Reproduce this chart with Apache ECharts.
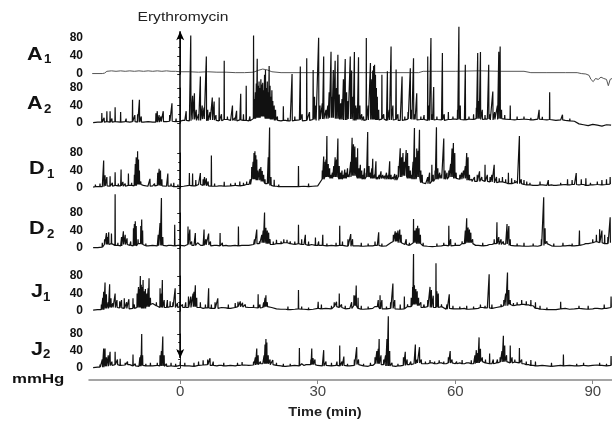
<!DOCTYPE html>
<html><head><meta charset="utf-8">
<script src="https://cdn.jsdelivr.net/npm/echarts@6/dist/echarts.min.js"></script>
<style>html,body{margin:0;padding:0;background:#fff}#c{width:612px;height:421px}</style>
</head><body><div id="c"></div>
<script>
// ---------------- DATA ----------------
const timeTicks = [0, 30, 60, 90];
const yTickMax = 80;
const channelLetters = ['A', 'A', 'D', 'D', 'J', 'J'];
const channelSubs = ['1', '2', '1', '2', '1', '2'];
const BG_START = -19; // background samples, one per minute from -19 to 94

// A1: slow baseline trace [time, mmHg]
const a1Trace = [[-19.2,1],[-17,1],[-16.5,2],[-16,6],[-15,7],[-14,6],[-13,7],[-12,6],[-11,7],[-10,6],[-9,7],[-8,6],[-7,7],[-6,6],[-5,7],[-4,6],[-3,7],[-2,6],[-1,6],[0,5],[2,5],[4,4],[6,5],[8,4],[10,4],[12,3],[14,3],[16,4],[17,8],[18,11],[19,9],[20,5],[22,3],[30,3],[40,3],[50,3],[52,3],[53,6],[56,6],[60,6],[65,7],[70,6],[75,6],[76.5,3],[80,3],[84,3],[86.6,3],[87.5,1],[88.5,0],[89.2,-3],[89.6,-12],[90.1,-17],[90.6,-10],[91.2,-12],[91.8,-7],[92.4,-10],[93.0,-12],[93.4,-26],[93.8,-12],[94.2,-10]];

// A2
const a2Bg = [1,2,2,3,2,3,2,3,2,3,2,2,3,2,2,3,3,4,3,
  4,6,5,8,6,9,5,7,6,5,8,6,5,7,6,5,
  10,12,15,10,8,6,5,6,5,6,7,5,6,8,6,
  9,10,12,10,8,7,9,6,8,6,7,8,7,9,6,
  7,8,6,7,9,8,7,8,6,7,8,7,6,8,9,
  8,7,9,8,10,8,9,7,8,10,9,8,7,8,9,
  8,7,9,8,7,8,6,7,6,5,4,
  -2,-4,-6,-3,-5,-7,-4,-5];
const a2Spikes = [[-17.1,23],[-16.6,12],[-16.0,27],[-15.3,27],[-14.9,10],[-14.2,36],[-13.0,25],[-11.8,10],[-10.4,53],[-9.9,18],[-9.3,20],[-8.9,53],[-8.5,15],[-5.3,22],[-5.0,27],[-4.6,18],[-4.2,15],[-3.7,27],[-2.3,18],[-1.8,45],[-0.9,10],
  [0.6,10],[1.3,27],[2.3,200],[2.7,62],[3.1,68],[3.5,30],[4.0,20],[4.4,106],[4.8,40],[5.2,35],[5.7,152],[6.0,30],[6.5,25],[7.0,58],[7.4,49],[7.8,18],[8.5,58],[9.0,20],[9.6,142],[10.3,15],[11.4,40],[11.9,12],[12.3,28],[13.2,67],[13.8,20],[14.4,85],[15.2,15],
  [16.0,200],[16.2,55],[16.4,70],[16.6,90],[16.8,147],[17.0,85],[17.2,95],[17.4,80],[17.6,100],[17.8,88],[18.0,92],[18.2,75],[18.4,110],[18.6,121],[18.8,80],[19.0,95],[19.2,70],[19.4,130],[19.6,85],[19.8,60],[20.0,75],[20.2,50],[20.5,40],[20.8,30],[21.2,15],
  [22.5,38],[23.5,12],[24.4,112],[25.0,15],[26.2,129],[26.6,20],[27.6,148],[28.2,25],[29.0,121],[29.3,60],[29.6,40],[30.2,195],[30.5,40],[31.0,45],[31.3,152],[31.8,30],
  [32.2,40],[32.5,70],[32.9,163],[33.1,60],[33.4,121],[33.8,142],[34.1,80],[34.4,156],[34.7,65],[35.0,45],[35.3,55],[35.6,100],[36.0,146],[36.3,70],[36.6,50],[37.1,152],[37.4,120],[37.7,60],[38.0,162],[38.3,40],[38.6,35],[38.9,150],[39.2,40],[39.6,20],[40.0,15],[40.6,194],[41.0,40],[41.5,137],[41.8,100],[42.0,120],[42.2,130],[42.4,133],[42.6,110],[42.8,80],[43.0,60],[43.3,30],[44.0,110],[44.4,20],[45.2,118],[45.6,30],[46.0,175],[46.4,40],[47.1,122],[47.5,20],[48.4,106],[49.0,15],[49.7,25],[50.2,125],[50.5,30],[50.9,148],[51.2,20],[51.6,68],[52.5,15],[53.2,18],[54.0,152],[54.3,40],[54.7,194],[55.0,20],[55.3,82],[56.0,15],[57.2,160],[57.6,20],[58.5,25],[59.5,15],[60.5,30],[60.8,220],[61.1,40],[62.2,133],[63.0,15],[64.0,20],[64.6,35],[64.9,160],[65.2,50],[65.5,162],[65.9,30],[66.5,18],[67.3,133],[67.6,20],[68.2,72],[68.6,25],[69.2,40],[69.5,163],[69.8,175],[70.1,30],[70.8,18],[72.0,40],[73.5,15],[75.0,15],[76.5,12],[78.3,30],[79.0,14],[80.6,70],[82.0,10],[83.4,19],[85.0,10]];

// D1
const d1Bg = [2,3,3,5,4,6,5,4,6,5,8,6,4,5,6,5,4,5,3,
  3,4,6,5,8,6,5,4,4,5,4,5,6,5,6,8,
  20,18,15,10,6,4,3,3,3,3,3,4,3,4,5,
  20,25,22,25,20,22,25,28,22,20,25,22,20,22,20,
  20,18,25,28,22,20,25,12,10,15,20,22,20,25,22,
  20,22,18,15,15,18,15,14,12,14,12,10,12,10,8,
  7,6,6,7,6,7,6,7,8,7,8,
  7,8,6,7,8,7,8,9];
const d1Spikes = [[-18.5,8],[-17.5,10],[-16.7,63],[-16.4,29],[-16.0,25],[-15.3,27],[-14.8,12],[-14.2,36],[-13.5,10],[-12.9,42],[-12.5,14],[-12.0,10],[-11.3,33],[-10.6,12],[-10.0,30],[-9.8,55],[-9.6,70],[-9.4,68],[-9.3,84],[-9.1,65],[-8.9,40],[-8.6,15],[-8.0,10],[-7.0,8],[-6.6,21],[-5.6,10],[-4.9,35],[-4.6,44],[-4.3,40],[-4.0,20],[-2.7,33],[-2.0,10],[-1.4,12],[-0.5,8],
  [0.8,8],[2.0,34],[2.7,33],[3.4,18],[4.4,34],[5.0,20],[5.3,25],[5.7,22],[6.1,15],[6.8,74],[7.5,10],[8.5,8],[9.6,14],[11.0,10],[12.0,12],[13.0,15],[13.8,12],[14.5,15],[15.3,20],[15.6,48],[15.9,60],[16.1,80],[16.3,84],[16.5,75],[16.7,65],[16.9,40],[17.3,44],[17.6,48],[17.9,39],[18.2,30],[18.5,20],[19.2,70],[19.5,138],[19.8,25],[20.5,19],[21.5,8],[23,6],[24.5,7],[25.8,50],[27.0,8],[28.0,10],[29.0,6],
  [30.3,8],[31.0,40],[31.3,72],[31.6,60],[31.8,65],[32.0,119],[32.3,55],[32.6,45],[32.9,30],[33.2,35],[33.5,50],[33.8,70],[34.1,65],[34.4,113],[34.7,50],[35.0,35],[35.3,40],[35.6,30],[35.9,42],[36.2,35],[36.5,45],[36.8,30],[37.2,60],[37.5,115],[37.8,100],[38.1,95],[38.4,70],[38.7,91],[39.0,45],[39.3,53],[39.6,40],[39.9,30],[40.2,45],[40.6,35],[40.9,128],[41.2,50],[41.5,35],[41.8,45],[42.0,67],[42.4,30],[42.7,61],[43.0,25],[43.4,30],[43.8,38],[44.2,30],[44.6,28],[45.0,35],[45.4,30],[45.7,61],[46.0,30],[46.4,25],[46.8,32],[47.2,30],[47.6,50],[48.0,91],[48.3,70],[48.6,80],[48.9,60],[49.3,87],[49.6,80],[49.9,50],[50.2,40],[50.5,30],[50.8,60],[51.1,137],[51.4,70],[51.6,90],[51.9,85],[52.2,133],[52.5,40],[52.8,30],[53.2,15],[53.6,12],[54.0,25],[54.4,35],[54.9,53],[55.2,30],[55.6,40],[55.9,139],[56.2,45],[56.6,35],[57.0,30],[57.5,113],[57.8,40],[58.2,35],[58.6,40],[59.0,55],[59.3,90],[59.6,103],[59.9,80],[60.2,35],[60.6,25],[61.0,30],[61.4,35],[61.8,40],[62.2,50],[62.5,80],[62.8,70],[63.1,30],[63.6,20],[64.2,25],[64.8,30],[65.3,38],[65.8,25],[66.5,53],[67.0,30],[67.6,25],[68.0,30],[68.5,53],[69.0,25],[69.6,22],[70.3,25],[71.0,20],[71.6,35],[72.3,22],[73.0,18],[73.5,15],[74.0,119],[74.4,20],[75.0,18],[75.6,15],[76.3,12],[77,8],[78.5,15],[80.3,18],[81.5,10],[83,12],[84.5,20],[85.5,18],[86.4,34],[87.5,20],[88.5,22],[89.5,12],[91.0,15],[92.0,18],[93.0,20],[93.8,25]];

// D2
const d2Bg = [1,1,2,8,10,6,5,8,6,5,10,8,5,6,5,6,5,6,5,
  6,5,8,6,8,6,7,5,6,5,6,5,6,5,6,6,
  8,10,12,10,8,10,10,12,10,8,10,8,6,8,6,
  6,5,6,5,6,5,4,5,5,4,5,5,6,4,5,
  12,15,12,8,6,12,10,5,4,3,4,5,6,5,6,
  6,10,12,10,6,5,6,8,10,8,9,6,5,5,4,
  4,5,4,6,10,5,4,4,5,6,5,
  6,8,10,12,15,12,10,12];
const d2Spikes = [[-17.0,12],[-16.5,20],[-16.1,34],[-15.9,25],[-15.6,36],[-15.0,33],[-14.6,10],[-14.2,123],[-13.6,12],[-12.8,25],[-12.4,38],[-12.0,30],[-11.6,22],[-10.8,15],[-10.2,45],[-10.0,55],[-9.8,61],[-9.6,50],[-9.2,20],[-8.6,50],[-8.4,65],[-8.2,40],[-7.5,10],[-6.0,8],[-4.8,30],[-4.4,57],[-4.1,114],[-3.8,25],[-2.5,10],[-1.2,53],[-0.5,10],
  [1.7,49],[2.1,42],[2.5,15],[3.3,34],[3.8,12],[4.5,10],[5.2,42],[5.6,20],[6.2,33],[6.6,15],[7.5,8],[8.7,34],[9.2,12],[10.5,8],[12.0,10],[12.7,49],[13.5,8],[15.0,10],[16.2,20],[16.7,42],[17.3,15],[17.8,30],[18.1,40],[18.4,81],[18.7,46],[19.0,40],[19.3,35],[19.6,20],[20.3,15],[21,19],[22,15],[22.6,20],[23.3,19],[24,15],[25.0,15],[25.8,53],[26.5,20],[27.3,30],[28.0,15],[28.7,12],[29.5,24],
  [30.2,15],[31.1,30],[32.0,10],[34.0,12],[34.8,51],[35.4,15],[36.6,20],[37.2,32],[37.6,20],[39.5,12],[41.0,10],[42.5,15],[43.3,36],[44.0,10],[46.0,15],[46.5,30],[46.9,38],[47.2,35],[47.5,40],[47.9,42],[48.2,30],[48.6,15],[49.3,20],[50.0,12],[50.9,66],[51.2,40],[51.5,45],[51.8,51],[52.1,45],[52.4,30],[53.0,12],[54.0,8],[56.0,10],[57.5,12],[58.6,51],[59.0,20],[60.0,12],[61.5,15],[62.2,40],[62.5,68],[62.8,47],[63.1,42],[63.4,35],[63.8,20],[64.5,10],[66.0,12],[67.5,8],[68.5,20],[69.1,59],[69.5,25],[70.0,20],[70.5,15],[71.3,55],[71.7,50],[72.0,20],[73.5,10],[75,12],[77,10],[78.8,20],[79.3,116],[79.6,45],[80.0,15],[81.5,10],[83.5,12],[85.5,10],[87.1,40],[88.5,12],[90.0,20],[90.8,30],[91.5,43],[92.0,40],[92.6,30],[93.3,25],[93.8,70]];

// J1
const j1Bg = [2,3,3,6,8,8,7,6,5,6,8,6,10,15,12,8,8,10,8,
  10,8,8,10,8,6,7,6,6,8,7,6,8,10,9,8,
  8,7,8,10,8,5,4,4,3,4,5,4,3,4,6,
  5,6,5,10,8,5,6,12,6,4,5,6,10,5,5,
  6,5,4,5,10,15,12,8,10,8,8,10,4,6,5,
  5,6,4,5,6,8,7,6,8,10,12,15,12,14,15,
  14,12,6,4,3,3,3,5,6,4,5,
  6,5,4,5,6,5,6,8];
const j1Spikes = [[-18,6],[-17.2,15],[-16.9,30],[-16.7,44],[-16.4,65],[-16.1,38],[-15.7,20],[-15.4,61],[-15.1,29],[-14.7,18],[-14.2,40],[-13.8,25],[-13.2,22],[-12.8,25],[-12.2,29],[-11.7,20],[-11.2,27],[-10.3,29],[-10.0,15],[-9.4,40],[-9.1,55],[-8.9,50],[-8.7,80],[-8.5,60],[-8.3,55],[-8.1,71],[-7.9,45],[-7.6,50],[-7.3,40],[-7.0,52],[-6.8,75],[-6.5,30],[-6.0,17],[-5.2,20],[-4.4,52],[-4.1,40],[-3.9,71],[-3.5,25],[-2.8,25],[-2.2,22],[-1.6,20],[-1.1,52],[-0.6,18],
  [0.0,21],[0.5,15],[1.2,20],[1.8,33],[2.3,33],[2.8,40],[3.0,44],[3.3,59],[3.6,30],[4.4,20],[5.5,15],[6.2,52],[6.8,15],[7.6,20],[8.2,29],[9.2,12],[10.5,15],[12.0,18],[12.6,21],[13.1,22],[13.6,19],[14.2,15],[15.0,12],[16.0,14],[17.0,38],[17.4,15],[18.2,20],[18.5,30],[18.7,36],[19.0,20],[20.0,10],[22,8],[23.5,10],[25.8,48],[26.5,10],[28,8],
  [30.1,21],[30.8,15],[31.8,10],[33.0,12],[33.6,20],[34.1,21],[34.7,40],[35.2,15],[36.0,12],[37.4,20],[37.9,36],[38.2,35],[38.4,58],[38.8,30],[39.5,12],[41,10],[42.5,12],[43.2,25],[43.6,36],[44.0,25],[45,10],[45.9,20],[46.4,63],[46.8,25],[48.0,15],[48.9,33],[49.6,15],[50.4,30],[50.7,55],[50.9,130],[51.1,59],[51.4,50],[51.7,45],[52.0,30],[52.5,20],[53.2,15],[54.0,25],[54.5,55],[54.8,48],[55.2,35],[55.8,109],[56.0,45],[56.3,40],[57.0,15],[58.2,15],[58.7,38],[59.5,12],[61,10],[62.5,12],[64,10],[65.5,15],[66.5,12],[67.4,84],[68.0,15],[69.0,12],[70.0,15],[70.6,25],[71.0,40],[71.4,88],[71.7,48],[72.0,25],[72.7,18],[73.5,20],[74.5,25],[75.5,22],[76.5,25],[77.5,20],[78.5,12],[80.0,8],[83.0,21],[85,8],[87,12],[89,12],[90.5,10],[92.5,15],[94.0,33]];

// J2
const j2Bg = [1,2,2,4,6,8,6,7,8,5,4,6,5,5,6,5,4,5,4,
  6,5,5,4,6,7,8,6,5,6,5,6,5,6,7,6,
  7,8,10,10,8,6,5,4,5,6,5,6,8,8,6,
  5,6,5,6,5,6,5,6,8,5,4,6,10,8,5,
  5,4,5,6,8,10,12,10,10,12,10,12,10,12,10,
  12,10,12,10,12,15,12,10,12,14,15,12,14,12,10,
  8,6,5,6,5,4,5,6,5,6,5,
  5,6,5,6,7,6,5,6];
const j2Spikes = [[-17.5,8],[-17.0,20],[-16.7,46],[-16.4,46],[-16.1,25],[-15.7,30],[-15.3,38],[-14.9,15],[-14.2,38],[-13.7,20],[-13.1,22],[-12.0,12],[-11.5,15],[-10.3,32],[-9.8,10],[-8.8,25],[-8.6,30],[-8.4,80],[-8.2,30],[-7.5,10],[-6.5,12],[-5.0,12],[-4.4,30],[-4.1,40],[-3.8,74],[-3.5,30],[-3.0,10],[-2.0,12],[-1.0,10],
  [0,15],[1.0,12],[2.0,8],[3.0,12],[4.0,15],[5.0,18],[6.0,20],[6.5,23],[7.2,15],[8.5,10],[9.5,12],[11,10],[12.5,12],[13.5,14],[15.0,10],[16.0,15],[16.4,25],[16.7,46],[17.0,30],[17.5,15],[18.3,30],[18.5,55],[18.7,68],[18.9,60],[19.2,30],[19.6,20],[20.2,19],[21.0,12],[22.5,10],[24.0,10],[25.0,8],[26.0,47],[26.5,10],[27.5,10],[28.5,20],[28.7,46],[29.0,23],[29.4,20],
  [30.0,10],[31.3,42],[31.8,15],[33.0,12],[34.2,15],[34.8,53],[35.3,15],[35.7,27],[36.5,10],[38.0,20],[38.5,49],[38.9,20],[40.0,10],[41.5,12],[42.5,25],[42.9,40],[43.2,45],[43.4,68],[43.8,30],[44.4,20],[44.8,30],[45.1,68],[45.4,122],[45.7,40],[46.2,12],[47.5,10],[48.7,25],[49.1,38],[49.5,20],[50.3,15],[51.3,55],[51.7,20],[52.2,49],[52.6,20],[53.5,15],[54.5,19],[55.5,15],[56.5,18],[57.5,15],[58.5,25],[58.9,40],[59.3,20],[60.3,15],[61.5,19],[62.5,15],[63.5,18],[64.3,30],[64.6,42],[64.9,35],[65.2,72],[65.5,45],[65.9,25],[66.6,20],[67.5,34],[68.3,20],[69.2,20],[69.8,25],[70.2,40],[70.5,76],[70.8,53],[71.2,30],[72.0,53],[72.4,25],[73.0,20],[74.0,47],[74.5,20],[75.5,15],[76.5,19],[77.5,15],[79,10],[81,12],[83.6,32],[85,8],[86.5,10],[88,12],[90,10],[91.5,12],[93.0,10],[94.0,28]];

// ---------------- BUILD ----------------
function buildTrace(bg, spikes) {
  const pts = [];
  bg.forEach((v, i) => pts.push([BG_START + i, v]));
  spikes.forEach(([t, v]) => {
    const k = Math.max(0, Math.min(bg.length - 1, Math.round(t - BG_START)));
    const b = bg[k];
    pts.push([t - 0.05, b], [t, v], [t + 0.05, b]);
  });
  pts.sort((p, q) => p[0] - q[0]);
  return pts;
}

const traces = [
  a1Trace,
  buildTrace(a2Bg, a2Spikes),
  buildTrace(d1Bg, d1Spikes),
  buildTrace(d2Bg, d2Spikes),
  buildTrace(j1Bg, j1Spikes),
  buildTrace(j2Bg, j2Spikes)
];

const FONT = '"Liberation Sans", Arial, Helvetica, sans-serif';
const X_MIN = -19.9, X_MAX = 94.2;
const gridTops = [38, 88, 153, 213, 276, 334];
const gridHeights = [36, 35, 35, 35, 35, 34];
const letterX = { A: 27, D: 29, J: 31 };
const subX = { A: 44, D: 47, J: 43 };

const grids = [], xAxes = [], yAxes = [], series = [], graphics = [];
for (let i = 0; i < 6; i++) {
  grids.push({ left: 89, right: 0, top: gridTops[i], height: gridHeights[i] });
  xAxes.push({ gridIndex: i, type: 'value', min: X_MIN, max: X_MAX, show: false });
  yAxes.push({
    gridIndex: i, type: 'value', min: 0, max: yTickMax, interval: 40,
    axisLine: { show: true, lineStyle: { color: '#222', width: 1 } },
    axisTick: { show: true, length: 3, lineStyle: { color: '#222' } },
    minorTick: { show: true, splitNumber: 2, length: 2, lineStyle: { color: '#222' } },
    splitLine: { show: false },
    axisLabel: { color: '#111', fontWeight: 'bold', fontSize: 12, fontFamily: FONT, margin: 6 }
  });
  series.push({
    type: 'line', xAxisIndex: i, yAxisIndex: i, data: traces[i],
    showSymbol: false, symbol: 'none', clip: false, silent: true, animation: false,
    lineStyle: { color: i === 0 ? '#555' : '#111', width: i === 0 ? 1 : 1.2 }
  });
  const cy = gridTops[i] + gridHeights[i] / 2 - 1;
  const L = channelLetters[i];
  graphics.push({
    type: 'text', x: letterX[L], y: cy, scaleX: 1.2, silent: true,
    style: { text: L, font: 'bold 18px ' + FONT, fill: '#111',
      textAlign: 'left', textVerticalAlign: 'middle', align: 'left', verticalAlign: 'middle' }
  });
  graphics.push({
    type: 'text', x: subX[L], y: cy + 5, scaleX: 1.1, silent: true,
    style: { text: channelSubs[i], font: 'bold 12px ' + FONT, fill: '#111',
      textAlign: 'left', textVerticalAlign: 'middle', align: 'left', verticalAlign: 'middle' }
  });
}
// overall grid: time axis + erythromycin arrow
grids.push({ left: 89, right: 0, top: 20, bottom: 41 });
xAxes.push({
  gridIndex: 6, type: 'value', min: X_MIN, max: X_MAX, position: 'bottom',
  axisLine: { show: true, lineStyle: { color: '#888', width: 1.5 } },
  axisTick: { show: true, customValues: timeTicks, length: 4, lineStyle: { color: '#888' } },
  axisLabel: { customValues: timeTicks, fontSize: 15, color: '#444', fontFamily: FONT, margin: 4 },
  splitLine: { show: false }
});
yAxes.push({ gridIndex: 6, type: 'value', min: 0, max: 1, show: false });
series.push({
  type: 'line', xAxisIndex: 6, yAxisIndex: 6, data: [], silent: true, animation: false,
  markLine: {
    silent: true, animation: false, symbol: ['arrow', 'arrow'], symbolSize: [6, 9],
    label: { show: false },
    lineStyle: { color: '#000', width: 1.5, type: 'solid' },
    data: [[{ coord: [0, 0.061] }, { coord: [0, 0.969] }]]
  }
});

graphics.push({
  type: 'text', x: 183, y: 17, scaleX: 1.2, silent: true,
  style: { text: 'Erythromycin', font: '13px ' + FONT, fill: '#222',
    textAlign: 'center', textVerticalAlign: 'middle', align: 'center', verticalAlign: 'middle' }
});
graphics.push({
  type: 'text', x: 325, y: 412, scaleX: 1.12, silent: true,
  style: { text: 'Time (min)', font: 'bold 13px ' + FONT, fill: '#222',
    textAlign: 'center', textVerticalAlign: 'middle', align: 'center', verticalAlign: 'middle' }
});
graphics.push({
  type: 'text', x: 12, y: 380, scaleX: 1.4, silent: true,
  style: { text: 'mmHg', font: 'bold 12px ' + FONT, fill: '#111',
    textAlign: 'left', textVerticalAlign: 'middle', align: 'left', verticalAlign: 'middle' }
});

const chart = echarts.init(document.getElementById('c'), null, { renderer: 'canvas' });
chart.setOption({
  animation: false,
  backgroundColor: '#fff',
  textStyle: { fontFamily: FONT },
  grid: grids, xAxis: xAxes, yAxis: yAxes, series: series, graphic: graphics
});
</script></body></html>
